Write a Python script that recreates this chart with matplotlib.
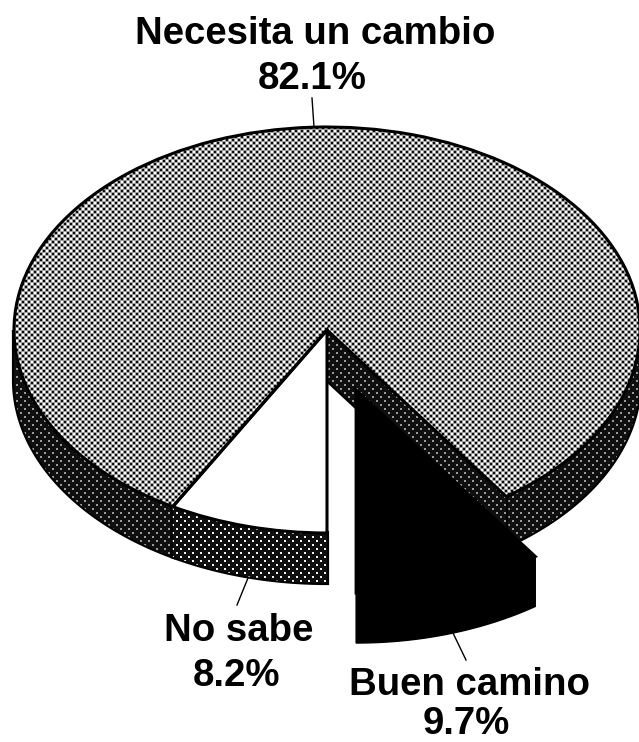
#!/usr/bin/env python3
# -*- coding: utf-8 -*-
import numpy as np
import matplotlib
matplotlib.use('Agg')
import matplotlib.pyplot as plt
from matplotlib.patches import Polygon

plt.rcParams['font.family'] = ['Liberation Sans', 'DejaVu Sans']

# data, counterclockwise from the bottom of the pie
labels = ['Buen camino', 'Necesita un cambio', 'No sabe']
values = [9.7, 82.1, 8.2]
explode = [0.31, 0, 0]
percent = ['%.1f%%' % v for v in values]

W, H = 639, 742
CX, CY, RX, RY = 327., 330., 313., 203.
DEPTH = 50. / RY


def tx(x):
    return (x - CX) / RX


def ty(y):
    return (CY - y) / RY


def dither_top():
    yy, xx = np.mgrid[0:H, 0:W]
    t = 0.62 + 0.85 * np.sin(np.pi * xx / 3.) * np.sin(np.pi * yy / 3.)
    return np.clip(t, 0.05, 1)


def dither_side(bright):
    yy, xx = np.mgrid[0:H, 0:W]
    t = np.full((H, W), 0.06)
    t[((xx % 4 < 2) & (yy % 4 < 2)) & ((xx // 4 + yy // 4) % 2 == 0)] = bright
    return t


def textured(ax, patch, tex, z):
    patch.set_zorder(z)
    im = ax.imshow(tex, cmap='gray', vmin=0, vmax=1, aspect='auto',
                   extent=(tx(0), tx(W), ty(H), ty(0)),
                   interpolation='nearest', zorder=z)
    im.set_clip_path(patch)


def rim(a1, a2, c=(0, 0)):
    a = np.radians(np.linspace(a1, a2, 120))
    x = c[0] + np.cos(a)
    y = c[1] + np.sin(a)
    return np.r_[np.c_[x, y], np.c_[x[::-1], y[::-1] - DEPTH]]


fig = plt.figure(figsize=(W / 100, H / 100), dpi=100)
ax = fig.add_axes([0, 0, 1, 1])
wedges, _ = ax.pie(values, explode=explode, startangle=270, radius=1,
                   colors=['black', 'none', 'white'],
                   wedgeprops=dict(edgecolor='black', linewidth=2.2))
ax.set_aspect('auto')
ax.set_xlim(tx(0), tx(W))
ax.set_ylim(ty(H), ty(0))
ax.axis('off')

black, gray, white = wedges
for w, z in zip(wedges, (8, 6, 5)):
    w.set_zorder(z)

tex_top = dither_top()
side_dim = dither_side(0.6)
side_bright = dither_side(0.95)
lw = 3

# outer walls of the main part
cut1 = gray.theta1
cut2 = gray.theta2 - 360
walls = [rim(cut1, 360), rim(180, cut2), rim(cut2, 270)]
for pts, tex in zip(walls, (side_dim, side_dim, side_bright)):
    p = Polygon(pts, closed=True, facecolor='none', edgecolor='black',
                linewidth=lw, zorder=3, transform=ax.transData)
    ax.add_patch(p)
    textured(ax, p, tex, 2)

# cut wall of the big slice, from the centre to the rim
a = np.radians(cut1)
cut = np.array([[0, 0], [np.cos(a), np.sin(a)],
                [np.cos(a), np.sin(a) - DEPTH], [0, -DEPTH]])
p = Polygon(cut, closed=True, facecolor='none', edgecolor='black',
            linewidth=lw, zorder=3)
ax.add_patch(p)
textured(ax, p, side_dim, 2)

# top face of the big slice
textured(ax, gray, tex_top, 4)
gray.set_zorder(6)

# exploded slice with its wall, all black
c = black.center
ax.add_patch(Polygon(rim(black.theta1, black.theta2, c), closed=True,
                     facecolor='black', edgecolor='black', linewidth=1, zorder=7))

# labels and leader lines
style = dict(ha='center', va='baseline', fontsize=27.6, fontweight='bold', color='black', zorder=10)
ax.text(tx(315), ty(44), labels[1], **style)
ax.text(tx(312), ty(89), percent[1], **style)
ax.text(tx(239), ty(641), labels[2], **style)
ax.text(tx(237), ty(686), percent[2], **style)
ax.text(tx(470), ty(695), labels[0], **style)
ax.text(tx(466), ty(734), percent[0], **style)

ax.plot([tx(312), tx(314)], [ty(98), ty(127)], color='black', lw=1, zorder=9)
ax.plot([tx(248), tx(237)], [ty(578), ty(605)], color='black', lw=1, zorder=9)
ax.plot([tx(453), tx(466)], [ty(633), ty(660)], color='black', lw=1, zorder=9)

fig.savefig('out.png', dpi=100, facecolor='white')
